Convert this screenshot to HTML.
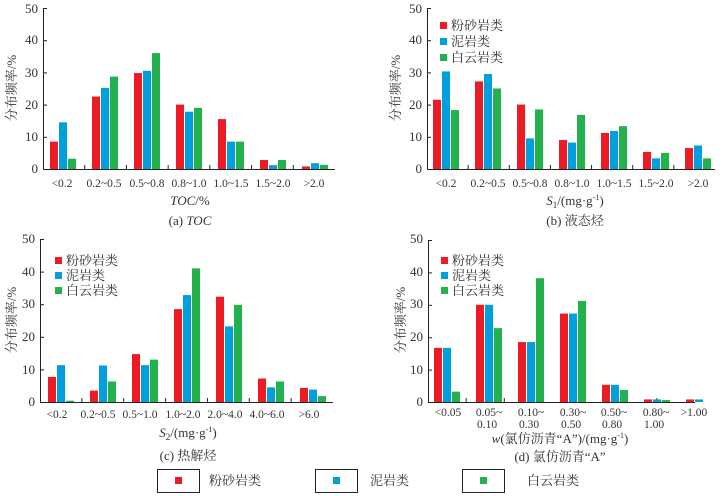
<!DOCTYPE html>
<html><head><meta charset="utf-8"><style>
body{margin:0;background:#fff;}
svg{display:block;font-family:"Liberation Serif","Noto Serif CJK SC",serif;}
text{fill:#333;}
</style></head><body>
<svg id="s" width="723" height="496" viewBox="0 0 723 496" xmlns="http://www.w3.org/2000/svg">
<g id="bars"></g>
<g font-size="13" text-anchor="end">
<text x="38" y="173">0</text><text x="38" y="141">10</text><text x="38" y="109">20</text><text x="38" y="77">30</text><text x="38" y="44">40</text><text x="38" y="13">50</text>
<text x="422" y="173">0</text><text x="422" y="141">10</text><text x="422" y="109">20</text><text x="422" y="77">30</text><text x="422" y="44">40</text><text x="422" y="13">50</text>
<text x="35" y="406">0</text><text x="35" y="374">10</text><text x="35" y="341">20</text><text x="35" y="308">30</text><text x="35" y="276">40</text><text x="35" y="243">50</text>
<text x="423" y="406">0</text><text x="423" y="374">10</text><text x="423" y="341">20</text><text x="423" y="308">30</text><text x="423" y="276">40</text><text x="423" y="243">50</text>
</g>
<g font-size="11.5" text-anchor="middle">
<text x="62" y="187">&lt;0.2</text><text x="104" y="187">0.2~0.5</text><text x="147" y="187">0.5~0.8</text><text x="189" y="187">0.8~1.0</text><text x="231" y="187">1.0~1.5</text><text x="273" y="187">1.5~2.0</text><text x="314" y="187">&gt;2.0</text>
<text x="446" y="187">&lt;0.2</text><text x="488" y="187">0.2~0.5</text><text x="530" y="187">0.5~0.8</text><text x="572" y="187">0.8~1.0</text><text x="614" y="187">1.0~1.5</text><text x="656" y="187">1.5~2.0</text><text x="698" y="187">&gt;2.0</text>
<text x="57" y="418">&lt;0.2</text><text x="98" y="418">0.2~0.5</text><text x="140" y="418">0.5~1.0</text><text x="183" y="418">1.0~2.0</text><text x="225" y="418">2.0~4.0</text><text x="267" y="418">4.0~6.0</text><text x="309" y="418">&gt;6.0</text>
<text x="448" y="416">&lt;0.05</text><text x="489" y="416">0.05~</text><text x="531" y="416">0.10~</text><text x="573" y="416">0.30~</text><text x="614" y="416">0.50~</text><text x="656" y="416">0.80~</text><text x="694" y="416">&gt;1.00</text>
<text x="487" y="428">0.10</text><text x="529" y="428">0.30</text><text x="571" y="428">0.50</text><text x="612" y="428">0.80</text><text x="654" y="428">1.00</text>
</g>
<g font-size="13" text-anchor="middle">
<text x="190" y="205"><tspan font-style="italic">TOC</tspan>/%</text>
<text x="190" y="225">(a) <tspan font-style="italic">TOC</tspan></text>
<text x="575" y="205"><tspan font-style="italic">S</tspan><tspan font-size="9" dy="3">1</tspan><tspan dy="-3">/(mg·g</tspan><tspan font-size="8" dy="-5">-1</tspan><tspan dy="5">)</tspan></text>
<text x="575" y="225">(b) 液态烃</text>
<text x="188" y="437"><tspan font-style="italic">S</tspan><tspan font-size="9" dy="3">2</tspan><tspan dy="-3">/(mg·g</tspan><tspan font-size="8" dy="-5">-1</tspan><tspan dy="5">)</tspan></text>
<text x="188" y="460">(c) 热解烃</text>
<text x="560" y="443"><tspan font-style="italic">w</tspan>(氯仿沥青“A”)/(mg·g<tspan font-size="8" dy="-5">-1</tspan><tspan dy="5">)</tspan></text>
<text x="560" y="461">(d) 氯仿沥青“A”</text>
</g>
<g font-size="13" text-anchor="middle">
<text transform="translate(16,88) rotate(-90)">分布频率/%</text>
<text transform="translate(400,88) rotate(-90)">分布频率/%</text>
<text transform="translate(16,320) rotate(-90)">分布频率/%</text>
<text transform="translate(405,320) rotate(-90)">分布频率/%</text>
</g>
<g font-size="13">
<rect x="440" y="22" width="7" height="7" fill="#ed1c24"/><text x="451" y="30">粉砂岩类</text>
<rect x="440" y="38" width="7" height="7" fill="#00a0dc"/><text x="451" y="46">泥岩类</text>
<rect x="440" y="54" width="7" height="7" fill="#22b14c"/><text x="451" y="62">白云岩类</text>
<rect x="55" y="257" width="7" height="7" fill="#ed1c24"/><text x="66" y="265">粉砂岩类</text>
<rect x="55" y="272" width="7" height="7" fill="#00a0dc"/><text x="66" y="280">泥岩类</text>
<rect x="55" y="287" width="7" height="7" fill="#22b14c"/><text x="66" y="295">白云岩类</text>
<rect x="441" y="257" width="7" height="7" fill="#ed1c24"/><text x="452" y="265">粉砂岩类</text>
<rect x="441" y="272" width="7" height="7" fill="#00a0dc"/><text x="452" y="280">泥岩类</text>
<rect x="441" y="287" width="7" height="7" fill="#22b14c"/><text x="452" y="295">白云岩类</text>
</g>
<g fill="none" stroke="#222" stroke-width="1">
<rect x="157.5" y="469.5" width="42" height="23"/><rect x="315.5" y="469.5" width="42" height="23"/><rect x="462.5" y="469.5" width="42" height="23"/>
</g>
<rect x="175" y="477" width="7" height="7" fill="#ed1c24"/>
<rect x="333" y="477" width="7" height="7" fill="#00a0dc"/>
<rect x="480" y="477" width="7" height="7" fill="#22b14c"/>
<g font-size="13"><text x="209" y="485">粉砂岩类</text><text x="370" y="485">泥岩类</text><text x="527" y="485">白云岩类</text></g>
</svg>
<script>
var P=[
{ax:43,y0:169,y50:8,xe:335,r1:50,d:[[8.5,22.5,29.8,20,15.5,2.8,0.8],[14.5,25.2,30.5,17.8,8.5,1.2,1.8],[3.2,28.7,36,19,8.5,2.8,1.3]]},
{ax:427,y0:169,y50:8,xe:715,r1:433,d:[[21.5,27.2,20,9,11.2,5.3,6.5],[30.3,29.5,9.5,8.2,11.8,3.3,7.3],[18.3,25,18.5,16.8,13.3,5,3.3]]},
{ax:40,y0:402,y50:239,xe:333,r1:48,d:[[7.7,3.5,14.7,28.5,32.3,7.2,4.3],[11.3,11.2,11.3,32.8,23.2,4.5,3.8],[0.4,6.3,13,41,29.8,6.3,1.8]]},
{ax:428,y0:402,y50:240,xe:695,r1:434,d:[[16.7,30,18.5,27.3,5.3,0.8,0.8],[16.7,30,18.5,27.3,5.3,0.8,0.8],[3.2,22.8,38.2,31.2,3.7,0.6,0]]}];
var C=["#ed1c24","#00a0dc","#22b14c"],h="";
P.forEach(function(p){var k=(p.y0-p.y50)/50;
h+='<line x1="'+(p.ax+.5)+'" y1="'+p.y50+'" x2="'+(p.ax+.5)+'" y2="'+p.y0+'" stroke="#222"/>';
h+='<line x1="'+p.ax+'" y1="'+(p.y0+.5)+'" x2="'+p.xe+'" y2="'+(p.y0+.5)+'" stroke="#222"/>';
for(var t=0;t<=5;t++){var y=p.y0-t*10*k;h+='<line x1="'+p.ax+'" y1="'+(y+.5)+'" x2="'+(p.ax+4)+'" y2="'+(y+.5)+'" stroke="#222"/>';}
for(var g=1;g<7;g++){var x=p.ax+g*(p.xe-p.ax)/7;h+='<line x1="'+x+'" y1="'+p.y0+'" x2="'+x+'" y2="'+(p.y0-4)+'" stroke="#222"/>';}
for(var s=0;s<3;s++)for(var g=0;g<7;g++){var v=p.d[s][g];if(!v)continue;var hh=v*k;
h+='<rect x="'+(p.r1+g*42+s*9)+'" y="'+(p.y0-hh)+'" width="8" height="'+hh+'" fill="'+C[s]+'"/>';}
});
document.getElementById("bars").innerHTML=h;
</script>
</body></html>
